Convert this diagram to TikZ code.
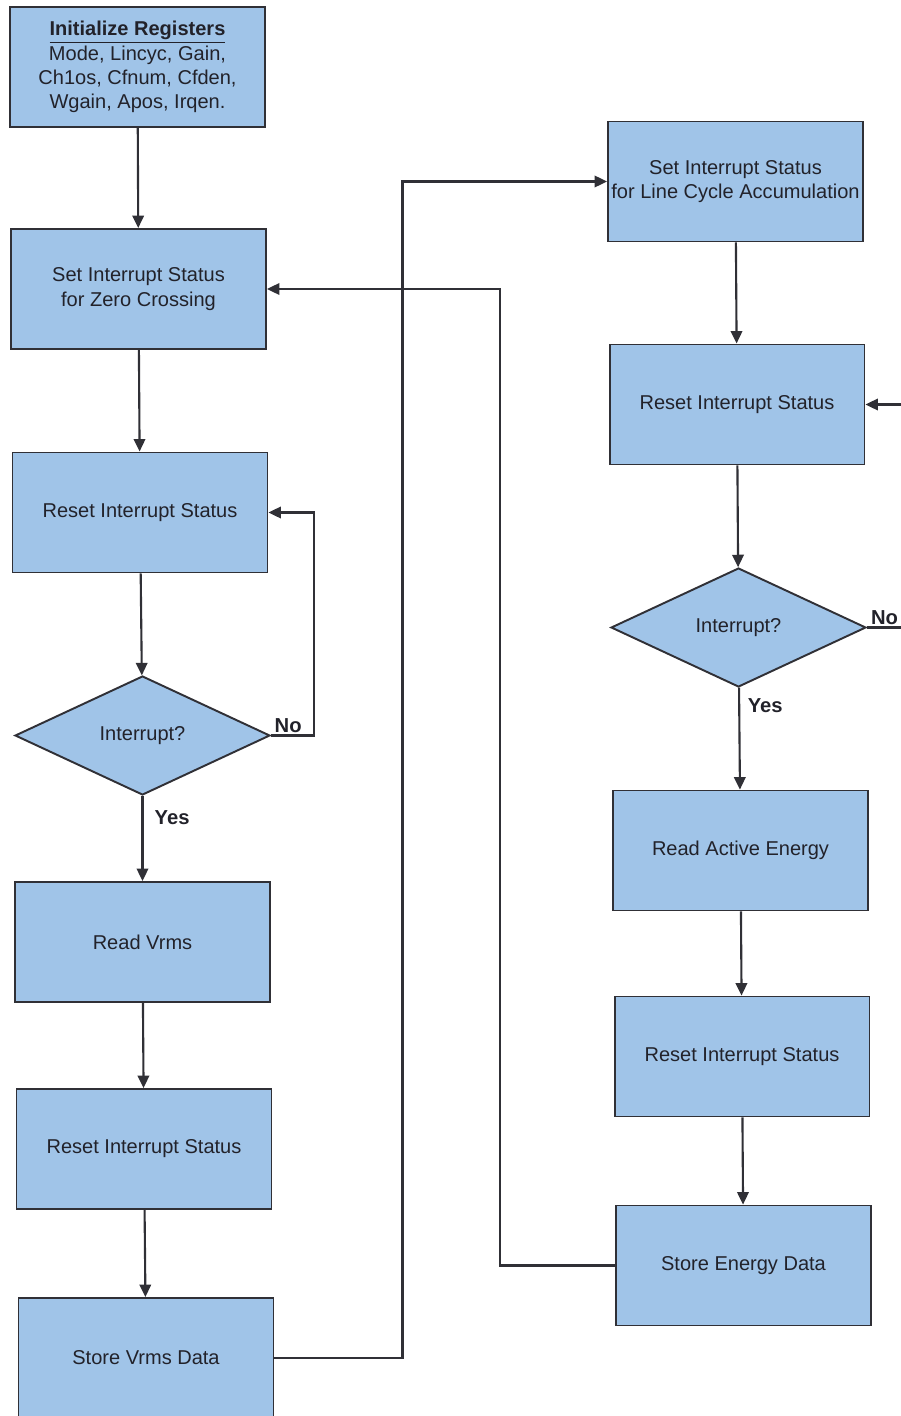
\documentclass[tikz,border=0pt]{standalone}
\usepackage{fontspec}
\setmainfont{Liberation Sans}
\usetikzlibrary{shapes.geometric,arrows.meta}
\definecolor{boxfillcolor}{RGB}{160,196,232}
\definecolor{linecolor}{RGB}{48,48,54}
\definecolor{textcolor}{RGB}{34,34,42}

\begin{document}
\begin{tikzpicture}[
	x=0.02cm, y=-0.02cm,
	procbox/.style={rectangle, draw=linecolor, fill=boxfillcolor,
		line width=1.1pt, minimum width=5.1cm, minimum height=2.4cm,
		inner sep=1pt, align=center},
	decbox/.style={diamond, draw=linecolor, fill=boxfillcolor,
		line width=1.1pt, minimum width=5.1cm, minimum height=2.38cm,
		inner sep=0pt, aspect=2.1},
	arr/.style={-{Triangle[length=0.25cm,width=0.23cm]}},
	link/.style={draw=linecolor, line width=1.2pt},
	branch/.style={font=\fontsize{11.5}{13}\selectfont\bfseries},
	every node/.style={text=textcolor, font=\fontsize{11.4}{13.8}\selectfont},
]
\useasboundingbox (0,0) rectangle (901,1416);
% \process[pos](name){text}: a plain step box.
\def\process[#1](#2)#3{
	\node[procbox] (#2) at (#1) {#3};
}
% \decision[pos](name){text}: a yes/no test.
\def\decision[#1](#2)#3{
	\node[decbox] (#2) at (#1) {#3};
}
	% Left column: zero crossing / Vrms
	\process[137.5,67](init){\underline{\textbf{Initialize Registers}}\\
		Mode, Lincyc, Gain,\\Ch1os, Cfnum, Cfden,\\Wgain, Apos, Irqen.}
	\process[138.5,289](setzc){Set Interrupt Status\\for Zero Crossing}
	\process[140,512.5](resetzc){Reset Interrupt Status}
	\decision[142.5,735.5](irqzc){Interrupt?}
	\process[142.5,942](readv){Read Vrms}
	\process[144,1149](resetv){Reset Interrupt Status}
	\process[146,1358](storev){Store Vrms Data}

	% Right column: line cycle / energy
	\process[735.5,181.5](setlc){Set Interrupt Status\\for Line Cycle Accumulation}
	\process[737,404.5](resetlc){Reset Interrupt Status}
	\decision[738.5,627.5](irqlc){Interrupt?}
	\process[740.5,850.5](reade){Read Active Energy}
	\process[742,1056.5](resete){Reset Interrupt Status}
	\process[743.5,1265.5](storee){Store Energy Data}

	\draw[link, arr] (init) -- (setzc);
	\draw[link, arr] (setzc) -- (resetzc);
	\draw[link, arr] (resetzc) -- (irqzc);
	\draw[link, arr] (irqzc) -- node[branch, right, pos=0.25, xshift=3pt]{Yes} (readv);
	\draw[link, arr] (readv) -- (resetv);
	\draw[link, arr] (resetv) -- (storev);
	\draw[link, arr] (irqzc.east) -- node[branch, above, pos=0.4, inner sep=1pt]{No}
		++(43,0) |- (resetzc.east);

	\draw[link, arr] (setlc) -- (resetlc);
	\draw[link, arr] (resetlc) -- (irqlc);
	\draw[link, arr] (irqlc) -- node[branch, right, pos=0.18, xshift=1pt]{Yes} (reade);
	\draw[link, arr] (reade) -- (resete);
	\draw[link, arr] (resete) -- (storee);
	% the No loop runs past the right edge
	\coordinate (lcturn) at (930,627.5);
	\draw[link, arr] (irqlc.east) -- node[branch, above, pos=0.28, inner sep=1pt]{No}
		(lcturn) |- (resetlc.east);

	% cross links between the two columns
	\draw[link, arr] (storev.east) -- ++(128,0) |- (setlc.west);
	\draw[link, arr] (storee.west) -- ++(-115,0) |- (setzc.east);
\end{tikzpicture}
\end{document}
